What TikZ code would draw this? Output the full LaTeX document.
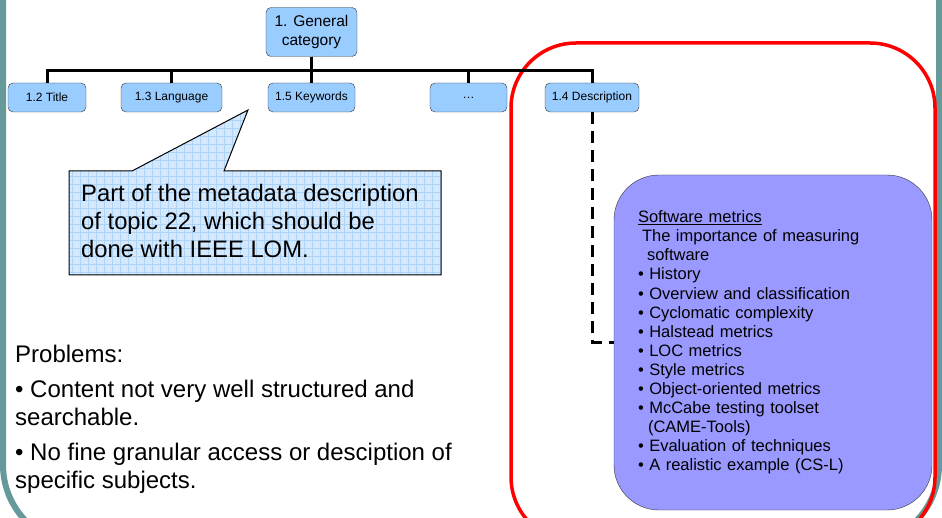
\documentclass[tikz,border=0pt]{standalone}
\usepackage{fontspec}
\setmainfont{Liberation Sans}
\definecolor{catblue}{HTML}{99CCFF}
\definecolor{lilac}{HTML}{9999FF}
\definecolor{notefill}{HTML}{D4E8FD}
\definecolor{notegrid}{HTML}{ADD3F7}
\definecolor{slideteal}{HTML}{669999}
\begin{document}
\begin{tikzpicture}[x=1pt,y=-1pt,
  cat/.style={draw=black!80,fill=catblue,rounded corners=5pt,minimum height=29pt,inner sep=2pt,font=\fontsize{12}{14}\selectfont},
  bus/.style={line width=3pt},
  dashline/.style={line width=3pt,dash pattern=on 12pt off 7pt},
  ]
\useasboundingbox (0,0) rectangle (942,518);
\draw[slideteal,line width=6pt,rounded corners=80pt] (3,-100) rectangle (939,545);
\draw[red,line width=3.5pt,rounded corners=65pt] (511,43) rectangle (935,542);

\node[cat,minimum width=91pt,minimum height=49pt,align=center,font=\fontsize{15.5}{19}\selectfont] (gen) at (311.5,32) {1. General\\category};
\node[cat,minimum width=78pt] (title) at (47,97.5) {1.2 Title};
\node[cat,minimum width=101pt] (lang) at (171.5,97.5) {1.3 Language};
\node[cat,minimum width=87pt] (keyw) at (311.5,97.5) {1.5 Keywords};
\node[cat,minimum width=77pt] (more) at (468.5,97.5) {…};
\node[cat,minimum width=94pt] (desc) at (592,97.5) {1.4 Description};
\coordinate (bus) at (0,71);
\foreach \c in {title,lang,keyw,more,desc}
  \draw[bus] (gen.south) -- (gen.south |- bus) -| (\c.north);

\coordinate (tip) at (248,110);
\draw[draw=black,line width=1pt,fill=notefill,path picture={\draw[notegrid,line width=0.6pt] (path picture bounding box.north west) grid[step=8pt] (path picture bounding box.south east);}]
  (69,171) -- (132,171) -- (tip) -- (224,171) -- (441,171) -- (441,275) -- (69,275) -- cycle;
\node[align=left,anchor=west,inner sep=0,font=\fontsize{23.8}{28}\selectfont] (note) at (81,221)
  {Part of the metadata description\\of topic 22, which should be\\done with IEEE LOM.};

\node[align=left,anchor=north west,inner sep=0,font=\fontsize{24}{27.5}\selectfont] (problems) at (15,344.5)
  {Problems:\\[8pt]\textbullet{} Content not very well structured and\\searchable.\\[8pt]\textbullet{} No fine granular access or desciption of\\specific subjects.};

\draw[dashline] (desc.south) |- (773,342.5);
\node[draw=black!80,fill=lilac,rounded corners=45pt,minimum width=318pt,minimum height=335pt,text width=270pt,inner xsep=24pt,align=left,font=\fontsize{16.5}{19.1}\selectfont] (soft) at (773,342.5)
  {\underline{Software metrics}\\
  \hspace*{4pt}The importance of measuring\\
  \hspace*{9pt}software\\
  \textbullet{} History\\
  \textbullet{} Overview and classification\\
  \textbullet{} Cyclomatic complexity\\
  \textbullet{} Halstead metrics\\
  \textbullet{} LOC metrics\\
  \textbullet{} Style metrics\\
  \textbullet{} Object-oriented metrics\\
  \textbullet{} McCabe testing toolset\\
  \hspace*{10pt}(CAME-Tools)\\
  \textbullet{} Evaluation of techniques\\
  \textbullet{} A realistic example (CS-L)};
\end{tikzpicture}
\end{document}
